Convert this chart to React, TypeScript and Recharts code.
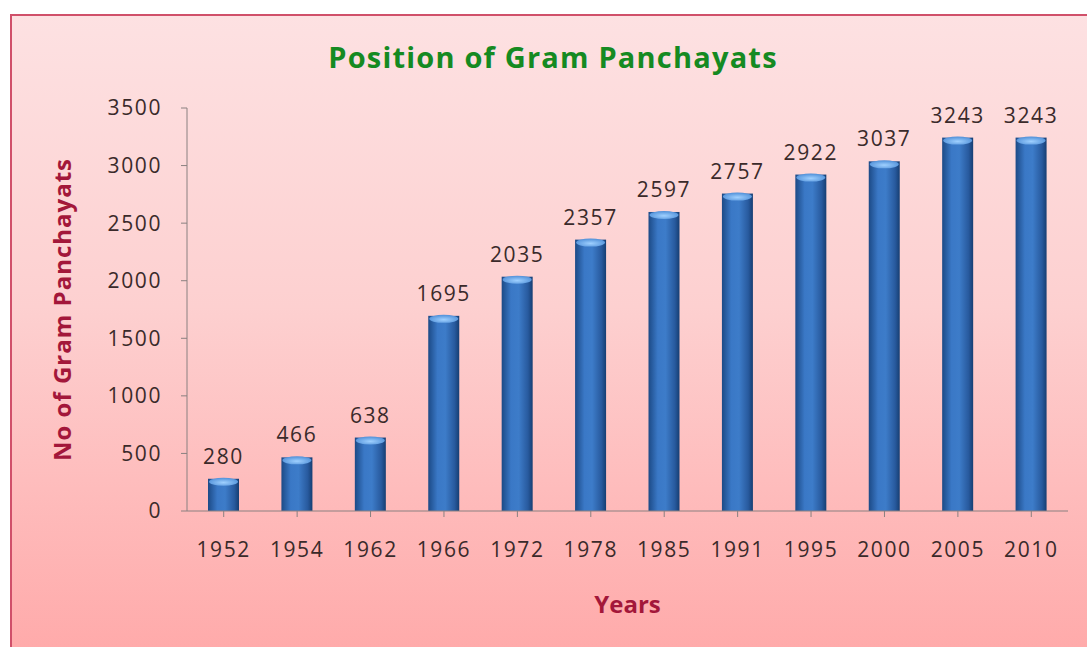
import { BarChart, Bar, XAxis, YAxis, LabelList, Label } from "recharts";

const years = ["1952", "1954", "1962", "1966", "1972", "1978", "1985", "1991", "1995", "2000", "2005", "2010"];
const panchayats = [280, 466, 638, 1695, 2035, 2357, 2597, 2757, 2922, 3037, 3243, 3243];
const yTicks = [0, 500, 1000, 1500, 2000, 2500, 3000, 3500];

const data = years.map((year, i) => ({ year, value: panchayats[i] }));

const FONT = "'Open Sans', Lato, sans-serif";

// cylinder-ish bar: side shading + light cap on top
function CylBar(props: any) {
  const { x, y, width, height } = props;
  if (height <= 0) return null;
  return (
    <g>
      <rect x={x} y={y} width={width} height={height} fill="url(#barSide)" />
      <ellipse
        cx={x + width / 2}
        cy={y + 3}
        rx={width / 2 - 1}
        ry={4}
        fill="url(#barCap)"
      />
    </g>
  );
}

export default function App() {
  return (
    <div style={{ position: "relative", width: 1087, height: 647 }}>
      <style>{`body{margin:0;overflow:hidden}`}</style>
      <div
        style={{
          position: "absolute",
          left: 10,
          top: 14,
          width: 1090,
          height: 650,
          boxSizing: "border-box",
          border: "2px solid #d0506a",
          background: "linear-gradient(to bottom, #fde1e2 0%, #fdd0d0 45%, #ffa9a9 100%)",
        }}
      />
      {/* Title */}
      <div
        style={{
          position: "absolute",
          left: 0,
          width: 1106,
          top: 37,
          textAlign: "center",
          fontFamily: FONT,
          fontWeight: 700,
          fontSize: 29,
          letterSpacing: 1.2,
          color: "#158a22",
        }}
      >
        Position of Gram Panchayats
      </div>
      <div style={{ position: "absolute", left: 10, top: 14 }}>
        <BarChart
          width={1077}
          height={633}
          data={data}
          margin={{ top: 94, right: 19, left: 0, bottom: 70 }}
          barSize={31}
        >
          <defs>
            <linearGradient id="barSide" x1="0" y1="0" x2="1" y2="0">
              <stop offset="0%" stopColor="#1c4a86" />
              <stop offset="30%" stopColor="#3a78c6" />
              <stop offset="55%" stopColor="#3d7cc9" />
              <stop offset="85%" stopColor="#285a9e" />
              <stop offset="100%" stopColor="#163e72" />
            </linearGradient>
            <radialGradient id="barCap" cx="0.5" cy="0.6" r="0.6">
              <stop offset="0%" stopColor="#9fd0ff" />
              <stop offset="100%" stopColor="#4f8fd8" />
            </radialGradient>
          </defs>
          <XAxis
            dataKey="year"
            height={66}
            interval={0}
            stroke="#8a8080"
            tickSize={6}
            tickLine={{ stroke: "#8a8080" }}
            tick={{ fill: "#3a2a2a", fontSize: 21, fontFamily: FONT, letterSpacing: 1.6, dy: 23 }}
          >
            <Label
              value="Years"
              position="insideBottom"
              offset={-36}
              style={{ fill: "#a3173a", fontSize: 24, fontWeight: 700, fontFamily: FONT }}
            />
          </XAxis>
          <YAxis
            width={177}
            domain={[0, 3500]}
            ticks={yTicks}
            interval={0}
            stroke="#8a8080"
            tickSize={6}
            tickMargin={19}
            tick={{ fill: "#3a2a2a", fontSize: 21, fontFamily: FONT, letterSpacing: 1.6 }}
          >
            <Label
              value="No of Gram Panchayats"
              angle={-90}
              position="insideLeft"
              offset={52}
              style={{
                fill: "#a3173a",
                fontSize: 24,
                fontWeight: 700,
                fontFamily: FONT,
                letterSpacing: 1,
                textAnchor: "middle",
              }}
            />
          </YAxis>
          <Bar dataKey="value" shape={<CylBar />} isAnimationActive={false}>
            <LabelList
              dataKey="value"
              position="top"
              offset={15}
              style={{ fill: "#3a2a2a", fontSize: 21, fontFamily: FONT, letterSpacing: 1.6 }}
            />
          </Bar>
        </BarChart>
      </div>
    </div>
  );
}
